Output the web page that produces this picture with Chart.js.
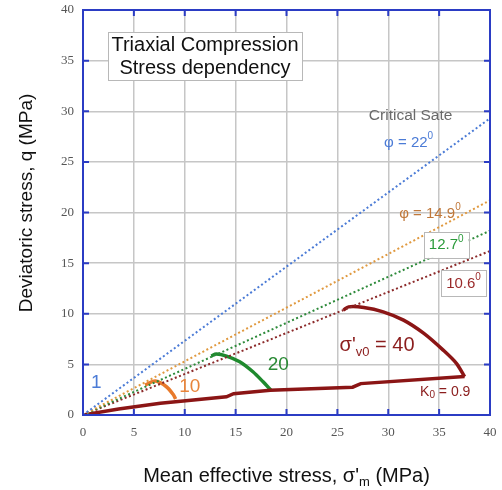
<!DOCTYPE html>
<html>
<head>
<meta charset="utf-8">
<script src="https://cdn.jsdelivr.net/npm/chart.js@4/dist/chart.umd.min.js"></script>
<style>
  html, body { margin: 0; padding: 0; background: #fff; }
</style>
</head>
<body>
<canvas id="myChart" width="502" height="490"></canvas>
<script>
// tick labels
const tickValues = [0, 5, 10, 15, 20, 25, 30, 35, 40];

// failure lines (q = M p), end points at p = 40
const lineP = [0, 40];
const crit22Q = [0, 29.3];
const phi149Q = [0, 21.2];
const phi127Q = [0, 18.2];
const phi106Q = [0, 16.2];

// K0 = 0.9 loading path
const k0P = [0, 3.5, 7.6, 14.1, 14.8, 18.4, 26.5, 27.3, 37.5];
const k0Q = [0, 0.6, 1.15, 1.8, 2.1, 2.45, 2.75, 3.1, 3.8];

// stress paths for sigma'v0 = 10, 20, 40
const path10P = [6.1, 7.1, 8.2, 8.9, 9.1];
const path10Q = [2.96, 3.35, 2.79, 1.97, 1.58];
const path20P = [12.6, 13.1, 14.1, 15.4, 16.7, 17.7, 18.45];
const path20Q = [5.82, 6.02, 5.82, 5.26, 4.27, 3.28, 2.47];
const path40P = [25.6, 26.1, 27.6, 29.5, 31.5, 33.5, 35.4, 36.7, 37.5];
const path40Q = [10.36, 10.68, 10.62, 10.19, 9.37, 8.06, 6.41, 5.1, 3.78];

const pts = (xs, ys) => xs.map((x, i) => ({ x: x, y: ys[i] }));

const FONT = "'Liberation Sans', Arial, sans-serif";

const dotted = (label, data, color) => ({
  label: label,
  data: data,
  showLine: true,
  borderColor: color,
  borderWidth: 2,
  borderDash: [2, 2.5],
  pointRadius: 0,
  fill: false
});

const solid = (label, data, color, tension) => ({
  label: label,
  data: data,
  showLine: true,
  borderColor: color,
  borderWidth: 3.5,
  pointRadius: 0,
  tension: tension,
  fill: false
});

// draws a run of text pieces: [text, size, dy]
function drawRich(ctx, parts, x, y, color, align) {
  let w = 0;
  parts.forEach((p) => {
    ctx.font = p[1] + "px " + FONT;
    w += ctx.measureText(p[0]).width;
  });
  let cx = align === "left" ? x : x - w / 2;
  ctx.fillStyle = color;
  ctx.textBaseline = "middle";
  ctx.textAlign = "left";
  parts.forEach((p) => {
    ctx.font = p[1] + "px " + FONT;
    ctx.fillText(p[0], cx, y + p[2]);
    cx += ctx.measureText(p[0]).width;
  });
  return w;
}

const notes = [
  { p: 1.3, q: 3.15, parts: [["1", 19, 0]], color: "#4b7bd6" },
  { p: 10.5, q: 2.75, parts: [["10", 19, 0]], color: "#e8843a" },
  { p: 19.2, q: 4.95, parts: [["20", 19, 0]], color: "#2a8a35" },
  { p: 28.9, q: 6.9, parts: [["σ'", 20, 0], ["v0", 13, 7], [" = 40", 20, 0]], color: "#8b1d1d" },
  { p: 35.6, q: 2.3, parts: [["K", 14, 0], ["0", 10, 4], [" = 0.9", 14, 0]], color: "#8b1d1d" },
  { p: 32.2, q: 29.6, parts: [["Critical Sate", 15.5, 0]], color: "#6a6a6a" },
  { p: 32.0, q: 26.9, parts: [["φ = 22", 15, 0], ["0", 10, -6]], color: "#4b7bd6" },
  { p: 34.1, q: 19.9, parts: [["φ = 14.9", 15, 0], ["0", 10, -6]], color: "#c0783a" },
  { p: 35.7, q: 16.8, parts: [["12.7", 15, 0], ["0", 10, -6]], color: "#2a9a3a", box: true },
  { p: 37.4, q: 13.0, parts: [["10.6", 15, 0], ["0", 10, -6]], color: "#9a2a2a", box: true }
];

const decor = {
  id: "decor",
  afterDraw(chart) {
    const ctx = chart.ctx;
    const a = chart.chartArea;
    const xs = chart.scales.x;
    const ys = chart.scales.y;
    ctx.save();

    // title box
    ctx.fillStyle = "#fff";
    ctx.fillRect(108, 32, 194, 48);
    ctx.strokeStyle = "#b8b8b8";
    ctx.lineWidth = 1;
    ctx.strokeRect(108.5, 32.5, 194, 48);
    drawRich(ctx, [["Triaxial Compression", 20, 0]], 205, 45, "#111");
    drawRich(ctx, [["Stress dependency", 20, 0]], 205, 68, "#111");

    // annotations
    notes.forEach((n) => {
      const x = xs.getPixelForValue(n.p);
      const y = ys.getPixelForValue(n.q);
      if (n.box) {
        let w = 0;
        n.parts.forEach((p) => { ctx.font = p[1] + "px " + FONT; w += ctx.measureText(p[0]).width; });
        ctx.fillStyle = "#fff";
        ctx.fillRect(x - w / 2 - 5, y - 13, w + 10, 26);
        ctx.strokeStyle = "#b8b8b8";
        ctx.lineWidth = 1;
        ctx.strokeRect(Math.round(x - w / 2 - 5) + 0.5, Math.round(y - 13) + 0.5, Math.round(w + 10), 26);
      }
      drawRich(ctx, n.parts, x, y, n.color);
    });

    // frame and inward ticks
    ctx.strokeStyle = "#2b3cc4";
    ctx.lineWidth = 2;
    ctx.strokeRect(a.left, a.top, a.right - a.left, a.bottom - a.top);
    ctx.beginPath();
    tickValues.forEach((v) => {
      const px = xs.getPixelForValue(v);
      ctx.moveTo(px, a.bottom); ctx.lineTo(px, a.bottom - 6);
      ctx.moveTo(px, a.top); ctx.lineTo(px, a.top + 6);
      const py = ys.getPixelForValue(v);
      ctx.moveTo(a.left, py); ctx.lineTo(a.left + 6, py);
      ctx.moveTo(a.right, py); ctx.lineTo(a.right - 6, py);
    });
    ctx.stroke();

    // axis titles
    drawRich(ctx, [["Mean effective stress, σ'", 20, 0], ["m", 13, 6], [" (MPa)", 20, 0]],
      (a.left + a.right) / 2, 476, "#111");
    ctx.translate(27, 203);
    ctx.rotate(-Math.PI / 2);
    drawRich(ctx, [["Deviatoric stress, q (MPa)", 19, 0]], 0, 0, "#111");
    ctx.restore();
  }
};

const tickOpts = {
  font: { family: "'Liberation Serif', 'Times New Roman', serif", size: 13 },
  color: "#555"
};

// fixed axis sizes, no extra label padding, so the plot box is 83..490 x 10..415
const fixAxis = (size) => (s) => {
  if (s.isHorizontal()) s.height = size; else s.width = size;
  s.paddingTop = 0; s.paddingBottom = 0; s.paddingLeft = 0; s.paddingRight = 0;
};

var ctx = document.getElementById("myChart").getContext("2d");
var chart = new Chart(ctx, {
  type: "scatter",
  data: {
    datasets: [
      dotted("Critical state 22", pts(lineP, crit22Q), "#4b7bd6"),
      dotted("14.9", pts(lineP, phi149Q), "#e0993f"),
      dotted("12.7", pts(lineP, phi127Q), "#2d8a3a"),
      dotted("10.6", pts(lineP, phi106Q), "#8c2a2a"),
      solid("K0 = 0.9", pts(k0P, k0Q), "#8b1515", 0),
      solid("10", pts(path10P, path10Q), "#e87a2c", 0.3),
      solid("20", pts(path20P, path20Q), "#1f8a2e", 0.3),
      solid("40", pts(path40P, path40Q), "#8b1515", 0.3)
    ]
  },
  options: {
    responsive: false,
    animation: false,
    layout: { padding: { left: 0, top: 10, right: 12, bottom: 0 } },
    plugins: { legend: { display: false }, tooltip: { enabled: false } },
    scales: {
      x: {
        type: "linear",
        min: 0,
        max: 40,
        afterBuildTicks: (s) => { s.ticks = tickValues.map((v) => ({ value: v })); },
        afterFit: fixAxis(75),
        ticks: Object.assign({ padding: 10 }, tickOpts),
        grid: { color: "#c6c6c6", lineWidth: 1.5, drawTicks: false },
        border: { display: false }
      },
      y: {
        type: "linear",
        min: 0,
        max: 40,
        afterBuildTicks: (s) => { s.ticks = tickValues.map((v) => ({ value: v })); },
        afterFit: fixAxis(83),
        ticks: Object.assign({ padding: 9 }, tickOpts),
        grid: { color: "#c6c6c6", lineWidth: 1.5, drawTicks: false },
        border: { display: false }
      }
    }
  },
  plugins: [decor]
});
</script>
</body>
</html>
